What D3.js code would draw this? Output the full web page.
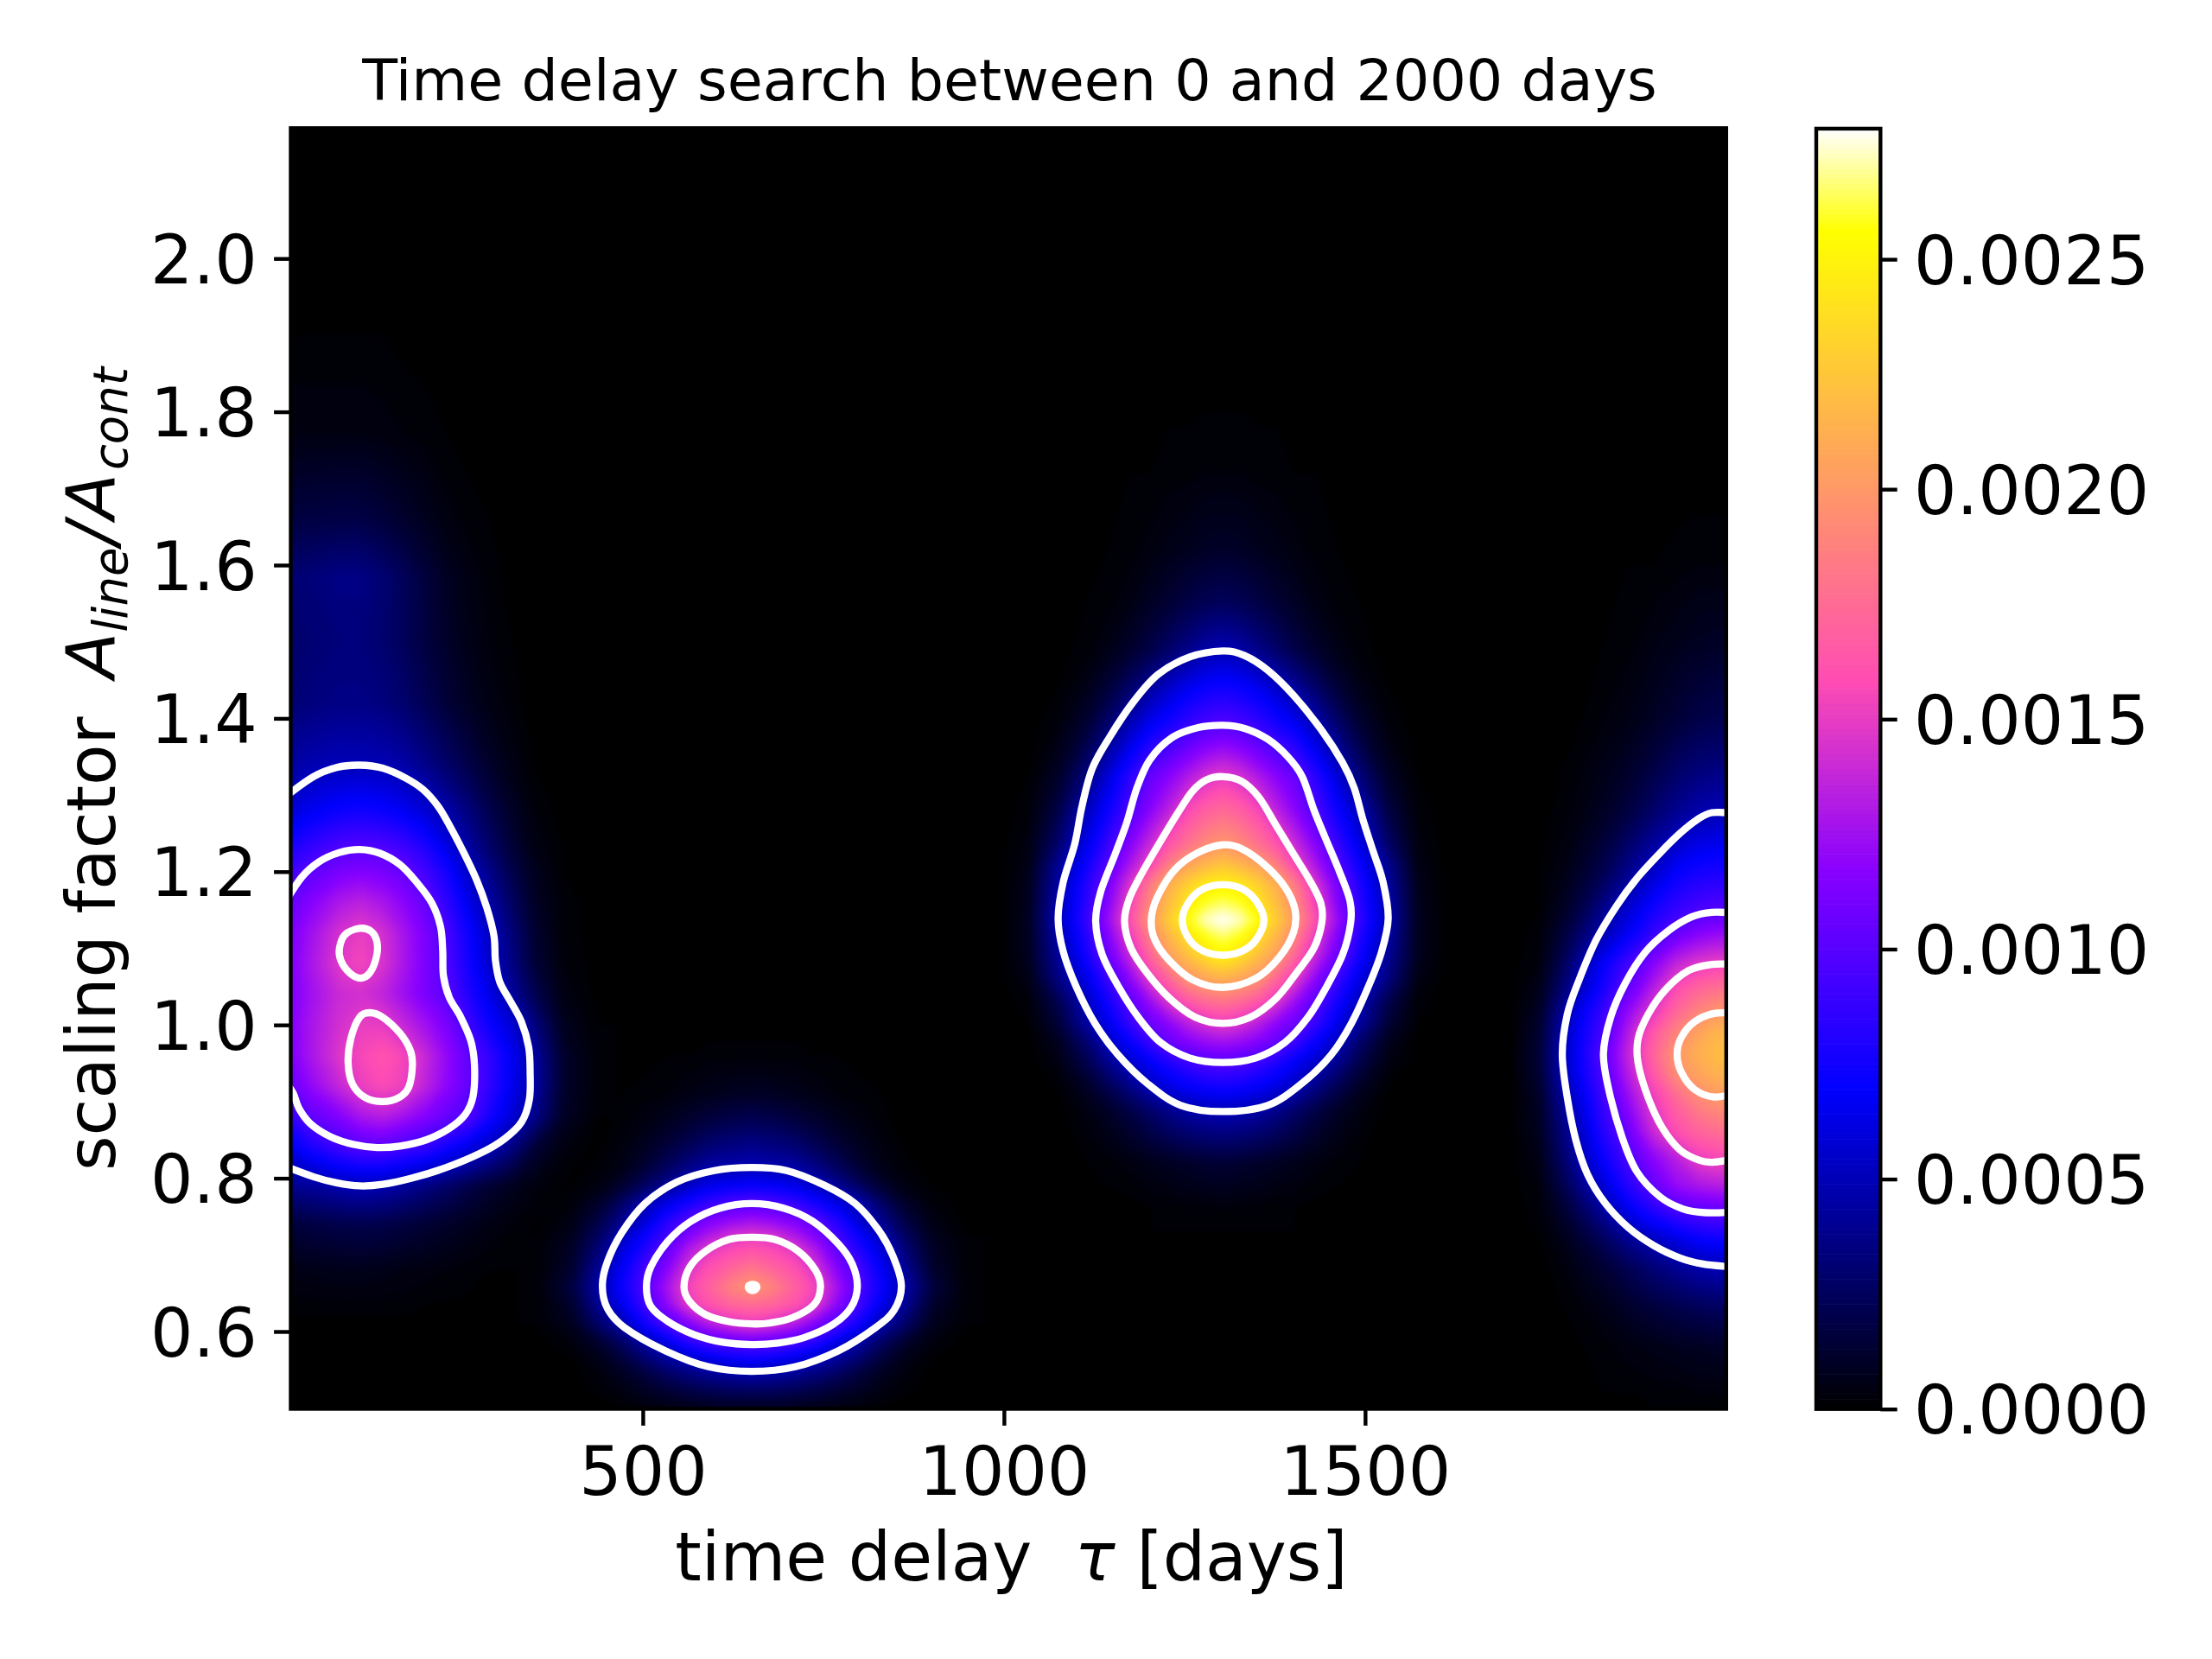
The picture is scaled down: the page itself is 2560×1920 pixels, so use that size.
<!DOCTYPE html>
<html>
<head>
<meta charset="utf-8">
<script src="https://cdn.jsdelivr.net/npm/d3@7"></script>
<style>
  body { margin: 0; background: #fff; }
  text { font-family: "DejaVu Sans"; fill: #000; white-space: pre; }
</style>
</head>
<body>
<svg id="chart" width="2560" height="1920"></svg>
<script>
const vmax = 278.4;
const xTicks = [500, 1000, 1500];
const yTicks = [0.6, 0.8, 1.0, 1.2, 1.4, 1.6, 1.8, 2.0];
const barTicks = [0, 0.0005, 0.001, 0.0015, 0.002, 0.0025];

// blobs around tau=1303 and tau=651 are close to mirror images, rows hold the left half up to the centre
const mirror = r => r.concat(r.slice(0, -1).reverse());

const centreTau = [993,1033,1073,1113,1143,1173,1203,1228,1253,1278,1303,1328,1353,1378,1403,1433,1463,1493,1533,1573,1613];
const centreA = [0.76,0.82,0.887,0.92,0.951,0.98,1.002,1.03,1.06,1.09,1.137,1.183,1.21,1.235,1.28,1.324,1.39,1.44,1.488,1.55,1.62,1.72,1.84];
const centreRows = [
  [0,0,0,0,0,0,1,1,2,2,3],
  [0,0,0,1,2,4,7,9,11,13,14],
  [0,0,0,4,10,18,28,37,44,48,50],
  [0,0,1,10,22,36,52,62,69,74,76],
  [0,0,4,20,38,54,68,80,90,97,100],
  [0,0,8,30,53,72,92,107,117,124,128],
  [0,1,14,43,63,87,107,118,133,144,150],
  [0,2,20,50,75,100,123,146,163,174,180],
  [0,5,34,62,89,117,150,172,197,207,213],
  [0,8,40,75,105,137,172,203,220,238,250],
  [0,8,48,87,121,159,200,228,256,273,279],
  [0,7,43,80,109,144,184,212,230,245,250],
  [0,5,38,72,98,127,155,184,205,215,224],
  [0,4,28,63,88,115,140,163,178,192,200],
  [0,2,18,50,72,95,118,135,156,168,175],
  [0,1,10,33,58,83,105,117,130,143,150],
  [0,0,3,14,30,50,68,78,88,96,100],
  [0,0,1,6,15,28,43,55,65,72,75],
  [0,0,0,2,6,12,20,29,37,46,50],
  [0,0,0,1,2,5,10,14,19,23,25],
  [0,0,0,0,1,2,4,6,8,10,11],
  [0,0,0,0,0,1,1,2,2,3,3],
  [0,0,0,0,0,0,0,0,0,0,0]
].map(mirror);

const lowerTau = [351,401,441,471,501,531,561,591,621,651,681,711,741,771,801,831,861,901,951];
const lowerA = [0.50,0.525,0.548,0.565,0.583,0.61,0.635,0.658,0.684,0.71,0.723,0.745,0.767,0.79,0.814,0.84,0.87,0.91,0.96,1.0];
const lowerRows = [
  [0,0,0,1,3,4,6,7,8,8],
  [0,0,2,5,10,15,20,24,27,28],
  [0,0,4,10,18,28,36,43,47,50],
  [0,1,7,16,30,42,53,64,71,75],
  [0,3,12,25,42,58,78,90,97,100],
  [1,8,30,47,73,95,113,132,143,150],
  [1,12,42,65,90,117,147,162,172,176],
  [1,17,48,72,96,125,153,170,188,201],
  [1,12,42,67,92,113,142,160,170,180],
  [1,10,33,58,78,100,127,146,155,160],
  [1,8,28,52,72,92,115,132,146,150],
  [0,5,20,38,56,80,98,113,120,125],
  [0,3,12,28,48,62,76,88,96,100],
  [0,1,5,13,26,40,53,64,69,72],
  [0,0,2,6,14,25,36,45,47,50],
  [0,0,1,4,9,16,24,32,36,38],
  [0,0,0,2,5,9,14,19,23,25],
  [0,0,0,1,2,3,5,7,9,10],
  [0,0,0,0,0,1,1,2,2,2],
  [0,0,0,0,0,0,0,0,0,0]
].map(mirror);

const leftTau = [0,40,80,110,140,170,200,230,260,290,320,350,390,440];
const leftA = [0.56,0.62,0.68,0.74,0.79,0.84,0.88,0.92,0.96,1.0,1.04,1.08,1.12,1.16,1.2,1.23,1.28,1.34,1.42,1.5,1.585,1.66,1.77,1.9,2.0];
const leftRows = [
  [0,0,0,0,0,0,0,0,0,0,0,0,0,0],
  [1,1,1,1,1,1,0,0,0,0,0,0,0,0],
  [5,6,7,7,6,5,4,3,2,1,1,0,0,0],
  [15,18,20,21,20,17,14,11,8,5,3,1,0,0],
  [38,42,48,50,48,42,35,28,20,13,8,4,1,0],
  [61,78,92,99,100,94,87,75,62,51,35,15,4,0],
  [79,103,115,128,133,125,115,105,98,75,58,38,10,1],
  [98,120,138,151,158,152,135,118,103,85,65,45,12,1],
  [108,128,147,156,162,155,138,120,102,85,66,44,12,1],
  [110,128,143,151,150,138,125,112,90,72,57,35,8,1],
  [108,125,140,143,136,124,112,100,80,62,42,22,5,0],
  [108,128,148,155,145,128,112,96,75,54,35,15,3,0],
  [107,125,144,151,143,127,112,94,72,52,32,13,2,0],
  [100,116,130,135,128,118,104,85,63,44,26,10,2,0],
  [85,102,112,115,112,104,92,75,53,36,20,8,1,0],
  [75,88,98,100,98,92,80,63,44,28,15,5,1,0],
  [55,66,73,75,72,66,57,46,33,20,10,3,0,0],
  [42,48,50,50,49,45,37,28,19,11,5,1,0,0],
  [30,34,36,36,34,29,22,15,9,5,2,0,0,0],
  [28,31,33,33,30,24,17,11,6,3,1,0,0,0],
  [30,33,36,36,31,24,16,9,5,2,0,0,0,0],
  [17,18,19,19,16,12,8,4,2,1,0,0,0,0],
  [5,5,5,5,4,3,2,1,0,0,0,0,0,0],
  [1,1,1,1,1,0,0,0,0,0,0,0,0,0],
  [0,0,0,0,0,0,0,0,0,0,0,0,0,0]
];

const rightTau = [1700,1740,1773,1800,1830,1860,1878,1900,1932,1960,1985,2020];
const rightA = [0.47,0.52,0.58,0.63,0.685,0.72,0.755,0.79,0.825,0.86,0.906,0.935,0.962,0.99,1.015,1.05,1.08,1.12,1.146,1.2,1.276,1.34,1.4,1.5,1.6,1.7];
const rightRows = [
  [0,0,0,0,0,0,0,0,0,0,0,0],
  [0,0,0,0,1,1,1,2,2,3,3,3],
  [0,0,0,1,2,4,5,6,8,9,10,10],
  [0,0,1,3,6,10,13,16,20,23,25,26],
  [0,0,3,8,14,22,27,33,41,47,50,51],
  [0,1,6,14,25,38,44,52,62,70,73,74],
  [0,2,12,25,42,60,70,80,92,98,101,102],
  [0,3,20,38,58,80,90,105,122,128,132,133],
  [0,5,28,50,72,92,104,118,134,150,155,157],
  [0,8,33,55,83,103,120,140,160,170,176,178],
  [0,10,42,65,92,118,135,152,175,192,200,204],
  [0,13,47,72,97,128,145,165,195,205,213,216],
  [0,14,50,75,100,133,150,172,200,212,219,222],
  [0,12,47,72,95,127,146,165,190,205,215,218],
  [0,10,42,68,90,118,133,150,175,190,200,203],
  [0,6,30,53,77,100,113,132,158,170,176,178],
  [0,3,23,46,70,90,100,117,138,147,152,153],
  [0,2,15,30,48,65,75,88,105,115,120,122],
  [0,1,10,22,40,57,66,78,90,97,100,101],
  [0,1,5,12,22,36,45,55,70,76,78,78],
  [0,0,2,5,10,17,22,30,40,47,50,50],
  [0,0,1,3,6,10,13,18,26,31,33,33],
  [0,0,0,1,3,5,7,10,15,19,21,21],
  [0,0,0,0,1,2,3,5,7,9,10,10],
  [0,0,0,0,0,1,1,1,2,3,3,3],
  [0,0,0,0,0,0,0,0,0,0,0,0]
];

// white contour lines as [tau, A]
const leftLine1 = [[4,1.297],[44,1.324],[76,1.336],[108,1.339],[140,1.335],[172,1.322],[196,1.307],[216,1.286],[232,1.261],[252,1.225],[270,1.189],[284,1.153],[294,1.116],[296,1.084],[302,1.056],[316,1.032],[332,1.004],[342,0.971],[344,0.939],[343,0.903],[332,0.873],[308,0.851],[276,0.833],[228,0.814],[180,0.800],[140,0.792],[108,0.790],[76,0.794],[44,0.802],[4,0.816]];
const leftLine2 = [[4,1.159],[28,1.193],[52,1.213],[80,1.225],[108,1.229],[136,1.224],[164,1.209],[188,1.185],[208,1.159],[220,1.128],[223,1.096],[224,1.064],[232,1.036],[248,1.010],[262,0.979],[267,0.947],[265,0.907],[254,0.883],[232,0.865],[200,0.850],[164,0.842],[132,0.840],[100,0.844],[68,0.854],[40,0.871],[24,0.891],[16,0.911],[4,0.927]];
const leftIslandA = [[108,1.126],[124,1.122],[132,1.108],[131,1.088],[122,1.068],[109,1.061],[94,1.068],[82,1.084],[80,1.100],[88,1.118]];
const leftIslandB = [[122,1.016],[140,1.010],[164,0.989],[178,0.967],[181,0.947],[176,0.919],[162,0.905],[140,0.900],[116,0.905],[98,0.923],[92,0.951],[96,0.983],[108,1.010]];

const lowerLine1 = [[444,0.660],[451,0.691],[471,0.729],[503,0.767],[547,0.795],[599,0.810],[651,0.814],[699,0.810],[751,0.791],[794,0.767],[826,0.733],[846,0.699],[858,0.660],[848,0.628],[822,0.605],[771,0.575],[711,0.554],[651,0.548],[591,0.554],[531,0.575],[475,0.605],[451,0.630]];
const lowerLine2 = [[505,0.658],[511,0.684],[535,0.718],[567,0.744],[607,0.761],[651,0.767],[695,0.761],[735,0.744],[771,0.714],[790,0.688],[797,0.658],[788,0.631],[763,0.609],[723,0.592],[687,0.585],[651,0.583],[611,0.586],[571,0.596],[535,0.613],[511,0.633]];
const lowerLine3 = [[557,0.658],[565,0.684],[587,0.705],[619,0.720],[651,0.723],[683,0.720],[715,0.705],[739,0.680],[746,0.658],[737,0.635],[707,0.618],[675,0.611],[651,0.610],[619,0.613],[587,0.622],[565,0.639]];
const lowerDot = [[646,0.658],[649,0.661],[655,0.661],[658,0.658],[655,0.654],[649,0.654]];

const centreLine1 = [[1303,1.488],[1333,1.482],[1365,1.463],[1401,1.430],[1441,1.383],[1469,1.342],[1485,1.309],[1497,1.268],[1511,1.227],[1525,1.186],[1532,1.139],[1523,1.096],[1505,1.051],[1481,1.002],[1453,0.961],[1413,0.924],[1365,0.895],[1303,0.887],[1245,0.895],[1198,0.924],[1158,0.961],[1126,1.002],[1100,1.050],[1082,1.096],[1075,1.139],[1082,1.186],[1098,1.236],[1108,1.285],[1122,1.334],[1146,1.375],[1178,1.420],[1213,1.457],[1257,1.480]];
const centreLine2 = [[1303,1.391],[1333,1.387],[1365,1.373],[1393,1.350],[1413,1.324],[1429,1.281],[1445,1.244],[1465,1.199],[1479,1.162],[1480,1.133],[1469,1.092],[1445,1.047],[1421,1.010],[1389,0.977],[1349,0.957],[1303,0.951],[1257,0.957],[1217,0.977],[1186,1.010],[1158,1.051],[1136,1.092],[1127,1.135],[1134,1.174],[1154,1.223],[1170,1.264],[1184,1.309],[1202,1.346],[1233,1.375],[1269,1.388]];
const centreLine3 = [[1303,1.324],[1329,1.318],[1353,1.297],[1377,1.260],[1401,1.223],[1425,1.186],[1439,1.158],[1440,1.133],[1429,1.100],[1405,1.068],[1377,1.035],[1341,1.010],[1303,1.002],[1265,1.010],[1229,1.035],[1198,1.068],[1176,1.100],[1167,1.135],[1174,1.166],[1194,1.203],[1217,1.240],[1241,1.277],[1261,1.305],[1281,1.320]];
const centreLine4 = [[1303,1.235],[1329,1.230],[1361,1.209],[1389,1.180],[1403,1.150],[1401,1.121],[1381,1.088],[1349,1.061],[1303,1.049],[1261,1.059],[1229,1.084],[1209,1.111],[1204,1.137],[1212,1.166],[1237,1.203],[1269,1.225]];
const centreLine5 = [[1303,1.183],[1329,1.178],[1349,1.162],[1360,1.137],[1349,1.111],[1329,1.096],[1303,1.091],[1277,1.096],[1257,1.111],[1247,1.137],[1257,1.162],[1277,1.178]];

const rightLine1 = [[2011,1.276],[1980,1.277],[1960,1.268],[1936,1.250],[1908,1.224],[1876,1.191],[1848,1.155],[1820,1.111],[1796,1.058],[1780,1.014],[1773,0.962],[1780,0.905],[1792,0.849],[1808,0.805],[1832,0.768],[1864,0.736],[1900,0.712],[1936,0.696],[1968,0.688],[1999,0.685],[2011,0.685]];
const rightLine2 = [[2011,1.146],[1980,1.147],[1952,1.141],[1920,1.123],[1888,1.095],[1860,1.054],[1840,1.010],[1830,0.962],[1838,0.913],[1856,0.853],[1876,0.809],[1908,0.776],[1940,0.760],[1972,0.755],[2011,0.756]];
const rightLine3 = [[2011,1.079],[1980,1.079],[1948,1.071],[1916,1.046],[1892,1.014],[1878,0.982],[1878,0.950],[1892,0.905],[1912,0.865],[1936,0.837],[1964,0.823],[1983,0.821],[2011,0.825]];
const rightLine4 = [[2011,1.015],[1983,1.015],[1956,1.004],[1938,0.984],[1932,0.962],[1938,0.938],[1956,0.916],[1983,0.906],[2011,0.911]];

// gnuplot2 colormap
function gnuplot2(t) {
    t = Math.min(1, Math.max(0, t));
    const r = Math.min(1, Math.max(0, t / 0.32 - 0.78125));
    const g = Math.min(1, Math.max(0, 2 * t - 0.84));
    const b = t < 0.25 ? 4 * t : t < 0.92 ? Math.min(1, -2 * t + 1.84) : t / 0.08 - 11.5;
    return d3.rgb(r * 255, g * 255, b * 255).formatRgb();
}

const plot = {left: 336.5, right: 1997.8, top: 148.3, bottom: 1630.5};
const lw = 4.4, tickLen = 19.4, tickFont = 77.8;

const svg = d3.select("#chart");
const x = d3.scaleLinear().domain([12.6, 2000]).range([plot.left, plot.right]);
const y = d3.scaleLinear().domain([0.4991, 2.1701]).range([plot.bottom, plot.top]);

svg.append("defs").append("clipPath").attr("id", "plotClip")
    .append("rect")
    .attr("x", plot.left).attr("y", plot.top)
    .attr("width", plot.right - plot.left).attr("height", plot.bottom - plot.top);

const blur = svg.select("defs").append("filter").attr("id", "soften")
    .attr("filterUnits", "userSpaceOnUse")
    .attr("x", 0).attr("y", 0).attr("width", 2560).attr("height", 1920)
    .attr("color-interpolation-filters", "sRGB");
blur.append("feGaussianBlur").attr("stdDeviation", 4);

svg.append("rect")
    .attr("x", plot.left).attr("y", plot.top)
    .attr("width", plot.right - plot.left).attr("height", plot.bottom - plot.top)
    .attr("fill", "#000");

const clipped = svg.append("g").attr("clip-path", "url(#plotClip)");
const heat = clipped.append("g").attr("filter", "url(#soften)");

// filled bands for one blob, grid index -> data through piecewise scales
function drawBlob(taus, amps, rows) {
    const n = taus.length, m = amps.length;
    const values = rows.flat();
    const ix = d3.scaleLinear().domain(d3.range(n).map(i => i + 0.5)).range(taus);
    const iy = d3.scaleLinear().domain(d3.range(m).map(i => i + 0.5)).range(amps);
    const thresholds = d3.range(1, 281, 2);
    const bands = d3.contours().size([n, m]).thresholds(thresholds)(values);
    const path = d3.geoPath(d3.geoTransform({
        point(px, py) { this.stream.point(x(ix(px)), y(iy(py))); }
    }));
    heat.append("g").selectAll("path")
        .data(bands)
        .join("path")
        .attr("d", path)
        .attr("fill", d => gnuplot2((d.value + 1) / vmax));
}

drawBlob(leftTau, leftA, leftRows);
drawBlob(lowerTau, lowerA, lowerRows);
drawBlob(centreTau, centreA, centreRows);
drawBlob(rightTau, rightA, rightRows);

// contour lines
const openLine = d3.line().x(d => x(d[0])).y(d => y(d[1])).curve(d3.curveCatmullRom.alpha(0));
const closedLine = d3.line().x(d => x(d[0])).y(d => y(d[1])).curve(d3.curveCatmullRomClosed.alpha(0));

const openLines = [leftLine1, leftLine2, rightLine1, rightLine2, rightLine3, rightLine4];
const closedLines = [leftIslandA, leftIslandB, lowerLine1, lowerLine2, lowerLine3, lowerDot,
    centreLine1, centreLine2, centreLine3, centreLine4, centreLine5];

clipped.append("g").selectAll("path").data(openLines).join("path")
    .attr("d", openLine).attr("fill", "none").attr("stroke", "#fff").attr("stroke-width", 8.3);
clipped.append("g").selectAll("path").data(closedLines).join("path")
    .attr("d", closedLine).attr("fill", "none").attr("stroke", "#fff").attr("stroke-width", 8.3);

// spines
svg.append("rect")
    .attr("x", plot.left).attr("y", plot.top)
    .attr("width", plot.right - plot.left).attr("height", plot.bottom - plot.top)
    .attr("fill", "none").attr("stroke", "#000").attr("stroke-width", lw);

function styleAxis(g) {
    g.select(".domain").remove();
    g.selectAll(".tick line").attr("stroke", "#000").attr("stroke-width", lw);
    g.selectAll(".tick text").attr("font-size", tickFont).attr("font-family", "DejaVu Sans").attr("fill", "#000");
}

svg.append("g")
    .attr("transform", `translate(0,${plot.bottom})`)
    .call(d3.axisBottom(x).tickValues(xTicks).tickSize(tickLen).tickFormat(d3.format("d")))
    .call(styleAxis)
    .selectAll(".tick text").attr("y", 99).attr("dy", 0);

svg.append("g")
    .attr("transform", `translate(${plot.left},0)`)
    .call(d3.axisLeft(y).tickValues(yTicks).tickSize(tickLen).tickPadding(19.4).tickFormat(d3.format(".1f")))
    .call(styleAxis)
    .selectAll(".tick text").attr("dy", "0.36em");

// colorbar
const bar = {left: 2102, right: 2176.3, top: 148.9, bottom: 1630.7};
const barScale = d3.scaleLinear().domain([0, vmax / 1e5]).range([bar.bottom, bar.top]);
const levels = d3.range(256);
svg.append("g").selectAll("rect").data(levels).join("rect")
    .attr("x", bar.left)
    .attr("width", bar.right - bar.left)
    .attr("y", d => barScale((d + 1) / 256 * vmax / 1e5))
    .attr("height", (bar.bottom - bar.top) / 256 + 0.6)
    .attr("fill", d => gnuplot2((d + 0.5) / 256));
svg.append("rect")
    .attr("x", bar.left).attr("y", bar.top)
    .attr("width", bar.right - bar.left).attr("height", bar.bottom - bar.top)
    .attr("fill", "none").attr("stroke", "#000").attr("stroke-width", lw);
svg.append("g")
    .attr("transform", `translate(${bar.right},0)`)
    .call(d3.axisRight(barScale).tickValues(barTicks).tickSize(tickLen).tickPadding(19.4).tickFormat(d3.format(".4f")))
    .call(styleAxis)
    .selectAll(".tick text").attr("dy", "0.36em");

// texts
svg.append("text")
    .attr("x", 1168.5).attr("y", 116)
    .attr("text-anchor", "middle").attr("font-size", 66.7)
    .text("Time delay search between 0 and 2000 days");

const xLabel = svg.append("text")
    .attr("x", 1170.5).attr("y", 1829)
    .attr("text-anchor", "middle").attr("font-size", tickFont);
xLabel.append("tspan").text("time delay  ");
xLabel.append("tspan").attr("font-style", "italic").text("τ");
xLabel.append("tspan").text(" [days]");

const yLabel = svg.append("text")
    .attr("transform", "translate(133,890) rotate(-90)")
    .attr("text-anchor", "middle").attr("font-size", tickFont);
yLabel.append("tspan").text("scaling factor  ");
yLabel.append("tspan").attr("font-style", "italic").attr("dx", -5).text("A");
yLabel.append("tspan").attr("font-style", "italic").attr("font-size", tickFont * 0.7).attr("dy", 14).text("line");
yLabel.append("tspan").attr("dy", -14).attr("dx", 3).attr("font-style", "italic").text("/");
yLabel.append("tspan").attr("dx", 3).attr("font-style", "italic").text("A");
yLabel.append("tspan").attr("dx", 4).attr("font-style", "italic").attr("font-size", tickFont * 0.7).attr("dy", 14).text("cont");
</script>
</body>
</html>
